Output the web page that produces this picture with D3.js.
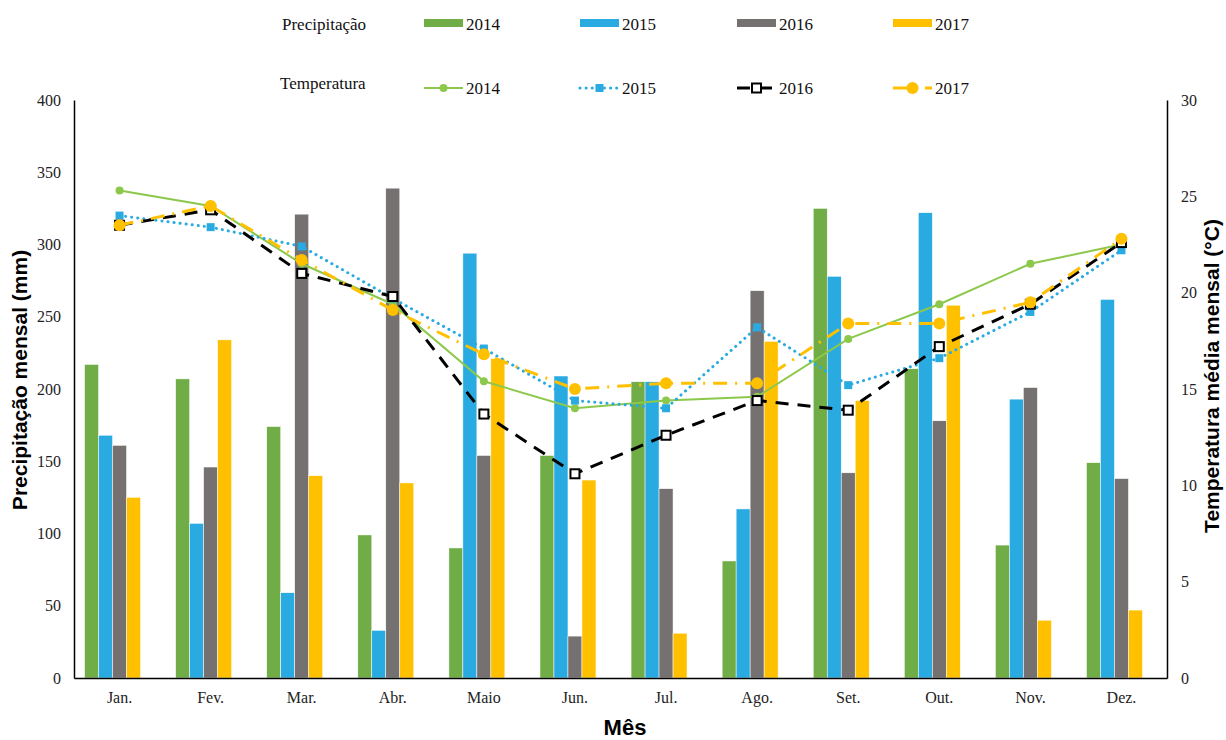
<!DOCTYPE html>
<html>
<head>
<meta charset="utf-8">
<script src="https://cdn.jsdelivr.net/npm/d3@7"></script>
<style>
  body { margin: 0; background: #fff; }
  svg { display: block; }
</style>
</head>
<body>
<svg id="drawing_region"></svg>
<script>
// meses
const months = ["Jan.", "Fev.", "Mar.", "Abr.", "Maio", "Jun.", "Jul.", "Ago.", "Set.", "Out.", "Nov.", "Dez."];
const years = ["2014", "2015", "2016", "2017"];

// precipitação mensal (mm)
const prec2014 = [217, 207, 174, 99, 90, 154, 205, 81, 325, 214, 92, 149];
const prec2015 = [168, 107, 59, 33, 294, 209, 205, 117, 278, 322, 193, 262];
const prec2016 = [161, 146, 321, 339, 154, 29, 131, 268, 142, 178, 201, 138];
const prec2017 = [125, 234, 140, 135, 221, 137, 31, 233, 192, 258, 40, 47];

// temperatura média mensal (°C)
const temp2014 = [25.3, 24.5, 21.5, 19.4, 15.4, 14.0, 14.4, 14.6, 17.6, 19.4, 21.5, 22.5];
const temp2015 = [24.0, 23.4, 22.4, 19.7, 17.1, 14.4, 14.0, 18.2, 15.2, 16.6, 19.0, 22.2];
const temp2016 = [23.5, 24.3, 21.0, 19.8, 13.7, 10.6, 12.6, 14.4, 13.9, 17.2, 19.4, 22.6];
const temp2017 = [23.5, 24.5, 21.7, 19.1, 16.8, 15.0, 15.3, 15.3, 18.4, 18.4, 19.5, 22.8];

const leftTicks = [0, 50, 100, 150, 200, 250, 300, 350, 400];
const rightTicks = [0, 5, 10, 15, 20, 25, 30];

const barColors = ["#70AD47", "#29ABE2", "#767171", "#FFC000"];

const config = {
    width: 1226,
    height: 740,
    margin: {top: 100, right: 59, bottom: 62, left: 74}
};

const svg = d3.select("#drawing_region")
    .attr("width", config.width)
    .attr("height", config.height);

const inner_width = config.width - config.margin.left - config.margin.right;
const inner_height = config.height - config.margin.top - config.margin.bottom;

const chart = svg.append("g")
    .attr("transform", `translate(${config.margin.left}, ${config.margin.top})`);

const x0 = d3.scaleBand()
    .domain(months)
    .range([0, inner_width])
    .paddingInner(0.232)
    .paddingOuter(0.116);

// 5 posições por grupo (a última fica vazia, como no original)
const x1 = d3.scaleBand()
    .domain([0, 1, 2, 3, 4])
    .range([0, x0.bandwidth()]);

const yL = d3.scaleLinear().domain([0, 400]).range([inner_height, 0]);
const yR = d3.scaleLinear().domain([0, 30]).range([inner_height, 0]);

// barras
const precSeries = [prec2014, prec2015, prec2016, prec2017];
precSeries.forEach((vals, i) => {
    chart.append("g").selectAll("rect")
        .data(vals)
        .join("rect")
        .attr("x", (d, j) => x0(months[j]) + x1(i))
        .attr("y", d => yL(d))
        .attr("width", x1.bandwidth())
        .attr("height", d => inner_height - yL(d))
        .attr("fill", barColors[i])
        .attr("stroke", "#fff")
        .attr("stroke-width", 0.5);
});

// linhas de temperatura
const cx = m => x0(m) + x0.bandwidth() / 2;
const lineStyles = [
    {data: temp2014, color: "#8CC84B", width: 2, dash: null, cap: "butt", marker: "circle", r: 4, fill: "#8CC84B"},
    {data: temp2015, color: "#29ABE2", width: 3, dash: "0.1 6", cap: "round", marker: "square", size: 8, fill: "#29ABE2"},
    {data: temp2016, color: "#000", width: 3, dash: "13 9", cap: "butt", marker: "hsquare", size: 9, fill: "#fff"},
    {data: temp2017, color: "#FFC000", width: 3, dash: "14 8 2 8", cap: "butt", marker: "circle", r: 6, fill: "#FFC000"}
];

const line = d3.line()
    .x((d, j) => cx(months[j]))
    .y(d => yR(d));

function drawMarker(g, s, x, y) {
    if (s.marker === "circle") {
        g.append("circle").attr("cx", x).attr("cy", y).attr("r", s.r).attr("fill", s.fill);
    } else if (s.marker === "square") {
        g.append("rect").attr("x", x - s.size / 2).attr("y", y - s.size / 2)
            .attr("width", s.size).attr("height", s.size).attr("fill", s.fill);
    } else {
        g.append("rect").attr("x", x - s.size / 2).attr("y", y - s.size / 2)
            .attr("width", s.size).attr("height", s.size)
            .attr("fill", "#fff").attr("stroke", "#000").attr("stroke-width", 2);
    }
}

lineStyles.forEach(s => {
    const g = chart.append("g");
    g.append("path")
        .datum(s.data)
        .attr("d", line)
        .attr("fill", "none")
        .attr("stroke", s.color)
        .attr("stroke-width", s.width)
        .attr("stroke-dasharray", s.dash)
        .attr("stroke-linecap", s.cap);
    s.data.forEach((d, j) => drawMarker(g, s, cx(months[j]), yR(d)));
});

// eixos
const xaxis = d3.axisBottom(x0).tickSize(0).tickPadding(14);
const yaxisL = d3.axisLeft(yL).tickValues(leftTicks).tickSize(0).tickPadding(13);
const yaxisR = d3.axisRight(yR).tickValues(rightTicks).tickSize(0).tickPadding(14);

function styleAxis(g) {
    g.select(".domain").attr("stroke", "#000").attr("stroke-width", 1.5);
    g.selectAll("text")
        .attr("font-family", "'Liberation Serif', serif")
        .attr("font-size", "16px")
        .attr("fill", "#222");
}

chart.append("g")
    .attr("transform", `translate(0, ${inner_height})`)
    .call(xaxis)
    .call(styleAxis);

chart.append("g")
    .call(yaxisL)
    .call(styleAxis);

chart.append("g")
    .attr("transform", `translate(${inner_width}, 0)`)
    .call(yaxisR)
    .call(styleAxis);

// títulos dos eixos
svg.append("text")
    .attr("x", 625)
    .attr("y", 735)
    .attr("text-anchor", "middle")
    .attr("font-family", "'Liberation Sans', Arial, sans-serif")
    .attr("font-weight", "bold")
    .attr("font-size", "22px")
    .text("Mês");

svg.append("text")
    .attr("transform", "translate(27, 380) rotate(-90)")
    .attr("text-anchor", "middle")
    .attr("font-family", "'Liberation Sans', Arial, sans-serif")
    .attr("font-weight", "bold")
    .attr("font-size", "21px")
    .text("Precipitação mensal (mm)");

svg.append("text")
    .attr("transform", "translate(1219, 376) rotate(-90)")
    .attr("text-anchor", "middle")
    .attr("font-family", "'Liberation Sans', Arial, sans-serif")
    .attr("font-weight", "bold")
    .attr("font-size", "21px")
    .text("Temperatura média mensal (°C)");

// legenda
const legendX = [424, 580, 737, 893];
const legend = svg.append("g")
    .attr("font-family", "'Liberation Serif', serif")
    .attr("font-size", "17px")
    .attr("fill", "#111");

legend.append("text").attr("x", 282).attr("y", 30).text("Precipitação");
legend.append("text").attr("x", 280).attr("y", 89).text("Temperatura");

years.forEach((yr, i) => {
    const lx = legendX[i];
    legend.append("rect")
        .attr("x", lx).attr("y", 19)
        .attr("width", 39).attr("height", 8)
        .attr("fill", barColors[i]);
    legend.append("text").attr("x", lx + 42).attr("y", 30).text(yr);

    const s = lineStyles[i];
    legend.append("line")
        .attr("x1", lx).attr("x2", lx + 39)
        .attr("y1", 88).attr("y2", 88)
        .attr("stroke", s.color)
        .attr("stroke-width", s.width)
        .attr("stroke-dasharray", s.dash)
        .attr("stroke-linecap", s.cap);
    drawMarker(legend, s, lx + 19.5, 88);
    legend.append("text").attr("x", lx + 42).attr("y", 94).text(yr);
});
</script>
</body>
</html>
